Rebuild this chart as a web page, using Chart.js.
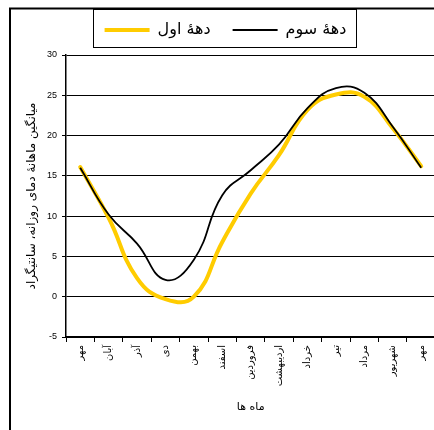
<!DOCTYPE html>
<html>
<head>
<meta charset="utf-8">
<script src="https://cdn.jsdelivr.net/npm/chart.js@4.4.0/dist/chart.umd.min.js"></script>
<style>
  html, body { margin: 0; padding: 0; background: #fff; overflow: hidden; width: 434px; height: 430px; }
  #chart { position: absolute; left: 0; top: 0; }
</style>
</head>
<body>
<canvas id="chart" width="440" height="430"></canvas>
<script>
// Months (Persian calendar), starting and ending at Mehr
const months = ['مهر', 'آبان', 'آذر', 'دی', 'بهمن', 'اسفند', 'فروردین', 'اردیبهشت', 'خرداد', 'تیر', 'مرداد', 'شهریور', 'مهر'];

// monthly mean of daily temperature, first decade (yellow)
const decadeFirst = [16.1, 9.8, 2.3, -0.3, 0.0, 6.8, 12.8, 17.6, 23.2, 25.1, 24.8, 20.9, 16.2];
// third decade (black)
const decadeThird = [16.0, 10.2, 6.6, 2.1, 4.6, 12.6, 15.7, 18.9, 23.4, 25.9, 25.3, 21.1, 16.0];

const yTicks = [-5, 0, 5, 10, 15, 20, 25, 30];

const labelFirst = 'دهۀ اول';
const labelThird = 'دهۀ سوم';
const yTitle = 'میانگین ماهانۀ دمای روزانه، سانتیگراد';
const xTitle = 'ماه ها';

const faFont = "'DejaVu Sans', sans-serif";
const numFont = "'Liberation Sans', Arial, sans-serif";

// outer frame + box round the legend
const framePlugin = {
  id: 'frame',
  afterDraw(chart) {
    const ctx = chart.ctx;
    ctx.save();
    ctx.strokeStyle = '#000';
    ctx.lineWidth = 2;
    ctx.beginPath();
    ctx.moveTo(10, 430);
    ctx.lineTo(10, 8.5);
    ctx.lineTo(440, 8.5);
    ctx.stroke();

    const hb = chart.legend.legendHitBoxes;
    if (hb && hb.length) {
      const left = Math.min(...hb.map(h => h.left)) - 12;
      const right = Math.max(...hb.map(h => h.left + h.width)) + 9;
      const top = hb[0].top - 13;
      const bottom = hb[0].top + 25;
      ctx.lineWidth = 1;
      ctx.strokeRect(Math.round(left) + 0.5, Math.round(top) + 0.5, Math.round(right - left), Math.round(bottom - top));
    }
    ctx.restore();
  }
};

new Chart(document.getElementById('chart'), {
  type: 'line',
  data: {
    labels: months,
    datasets: [
      {
        label: labelThird,
        data: decadeThird,
        borderColor: '#000',
        backgroundColor: '#000',
        borderWidth: 1.8,
        tension: 0.45,
        pointRadius: 0,
        fill: false,
      },
      {
        label: labelFirst,
        data: decadeFirst,
        borderColor: '#FFCC00',
        backgroundColor: '#FFCC00',
        borderWidth: 4,
        borderCapStyle: 'round',
        borderJoinStyle: 'round',
        tension: 0.45,
        pointRadius: 0,
        fill: false,
      },
    ],
  },
  options: {
    responsive: false,
    animation: false,
    devicePixelRatio: 1,
    layout: { padding: { left: 15.6, right: 4.6, top: 0, bottom: 0 } },
    plugins: {
      legend: {
        position: 'top',
        weight: 3000,
        reverse: true,
        labels: {
          usePointStyle: true,
          pointStyle: 'line',
          pointStyleWidth: 45,
          padding: 22,
          color: '#000',
          font: { family: faFont, size: 16 },
        },
      },
      // empty title used as a gap between legend and plot
      title: { display: true, text: '', font: { size: 1 }, padding: { top: 0, bottom: 5.8 } },
      tooltip: { enabled: false },
    },
    scales: {
      x: {
        offset: true,
        grid: { offset: true, drawOnChartArea: false, drawTicks: true, tickLength: 5, color: '#000' },
        border: { color: '#000', width: 1.5 },
        ticks: {
          autoSkip: false,
          minRotation: 90,
          maxRotation: 90,
          padding: 3,
          color: '#000',
          font: { family: faFont, size: 10 },
        },
        title: {
          display: true,
          text: xTitle,
          color: '#000',
          font: { family: faFont, size: 11 },
          padding: { top: 0, bottom: 16.4 },
        },
        afterFit(scale) { scale.height = 93; },
      },
      y: {
        min: -5,
        max: 30,
        afterBuildTicks(scale) { scale.ticks = yTicks.map(v => ({ value: v })); },
        grid: { color: '#000', lineWidth: 1, tickLength: 4 },
        border: { color: '#000', width: 1.5 },
        ticks: { color: '#000', padding: 5, font: { family: numFont, size: 9 } },
        title: {
          display: true,
          text: yTitle,
          color: '#000',
          font: { family: faFont, size: 12 },
          padding: { top: 9.2, bottom: 0 },
        },
        afterFit(scale) { scale.width = 50.4; },
      },
    },
  },
  plugins: [framePlugin],
});
</script>
</body>
</html>
